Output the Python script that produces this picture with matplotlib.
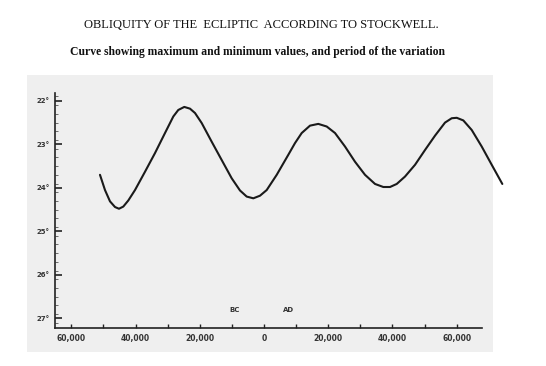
import matplotlib
matplotlib.use("Agg")
import matplotlib.pyplot as plt
from matplotlib.patches import Rectangle

# Years (negative = BC) and obliquity in degrees
years = [-51090, -49530, -47970, -46410, -45170, -43830, -42270, -40180, -37070,
         -33950, -30840, -28250, -26700, -24830, -23050, -21490, -19410, -16290,
         -13180, -10060, -7480, -5390, -3330, -1250, 840, 3960, 7570, 9660,
         11740, 14330, 16910, 19530, 22120, 25230, 28350, 31460, 34580, 37160,
         39250, 41340, 43920, 47040, 50150, 53270, 56380, 58470, 60030, 62080,
         64700, 67810, 70930, 74230]
obliquity = [23.70, 24.05, 24.31, 24.44, 24.48, 24.43, 24.29, 24.05, 23.63,
             23.20, 22.74, 22.36, 22.21, 22.14, 22.18, 22.28, 22.51, 22.94,
             23.36, 23.78, 24.06, 24.20, 24.24, 24.18, 24.05, 23.70, 23.24, 22.97,
             22.74, 22.57, 22.53, 22.59, 22.74, 23.05, 23.40, 23.70, 23.91, 23.98,
             23.98, 23.91, 23.74, 23.47, 23.13, 22.80, 22.50, 22.40, 22.39, 22.45,
             22.67, 23.05, 23.47, 23.91]

y_ticks = [22, 23, 24, 25, 26, 27]
y_tick_labels = ["22°", "23°", "24°", "25°", "26°", "27°"]
x_ticks = [-60000, -40000, -20000, 0, 20000, 40000, 60000]
x_tick_labels = ["60,000", "40,000", "20,000", "0", "20,000", "40,000", "60,000"]
x_minor = [-50000, -30000, -10000, 10000, 30000, 50000]

title = "OBLIQUITY OF THE  ECLIPTIC  ACCORDING TO STOCKWELL."
subtitle = "Curve showing maximum and minimum values, and period of the variation"

fig = plt.figure(figsize=(5.46, 3.66), dpi=100)
fig.patch.set_facecolor("white")

# gray scanned panel
fig.patches.append(Rectangle((27/546, 1-352/366), (493-27)/546, (352-75)/366,
                             transform=fig.transFigure, facecolor="#efefef",
                             edgecolor="none", zorder=-5))

fig.text(261/546, 1-25/366, title, ha="center", va="center",
         family="Liberation Serif", fontsize=9.0, color="#111111")
fig.text(257/546, 1-52/366, subtitle, ha="center", va="center",
         family="Liberation Serif", fontsize=8.4, fontweight="bold",
         color="#111111")

ax = fig.add_axes([55/546, 1-328/366, (482-55)/546, (328-93)/366])
ax.set_zorder(2)
ax.set_facecolor("none")
ax.plot(years, obliquity, color="#1a1a1a", lw=1.5, clip_on=False,
        solid_capstyle="round", solid_joinstyle="round")
ax.set_xlim(-65100, 67900)
ax.set_ylim(27.22, 21.82)

for s in ["top", "right"]:
    ax.spines[s].set_visible(False)
for s in ["left", "bottom"]:
    ax.spines[s].set_linewidth(1.2)
    ax.spines[s].set_color("#222222")

ax.set_yticks(y_ticks)
ax.set_yticklabels(y_tick_labels, fontsize=5, fontweight="bold", color="#333333")
ax.set_yticks([v / 10 for v in range(219, 272, 2)], minor=True)
ax.set_xticks(x_ticks)
ax.set_xticklabels(x_tick_labels, fontsize=5.5, fontweight="bold", color="#333333")
ax.set_xticks(x_minor, minor=True)
ax.tick_params(axis="y", which="major", direction="in", length=5, width=1.2,
               color="#222222", pad=4)
ax.tick_params(axis="y", which="minor", direction="in", length=2, width=0.6,
               color="#555555")
ax.tick_params(axis="x", which="major", direction="in", length=3, width=1,
               color="#222222", pad=4)
ax.tick_params(axis="x", which="minor", direction="in", length=3, width=1,
               color="#222222")

ax.text(-9030, 26.80, "BC", ha="center", va="center", fontsize=5,
        fontweight="bold", color="#333333")
ax.text(7790, 26.80, "AD", ha="center", va="center", fontsize=5,
        fontweight="bold", color="#333333")

fig.savefig("out.png", dpi=100, facecolor="white")
